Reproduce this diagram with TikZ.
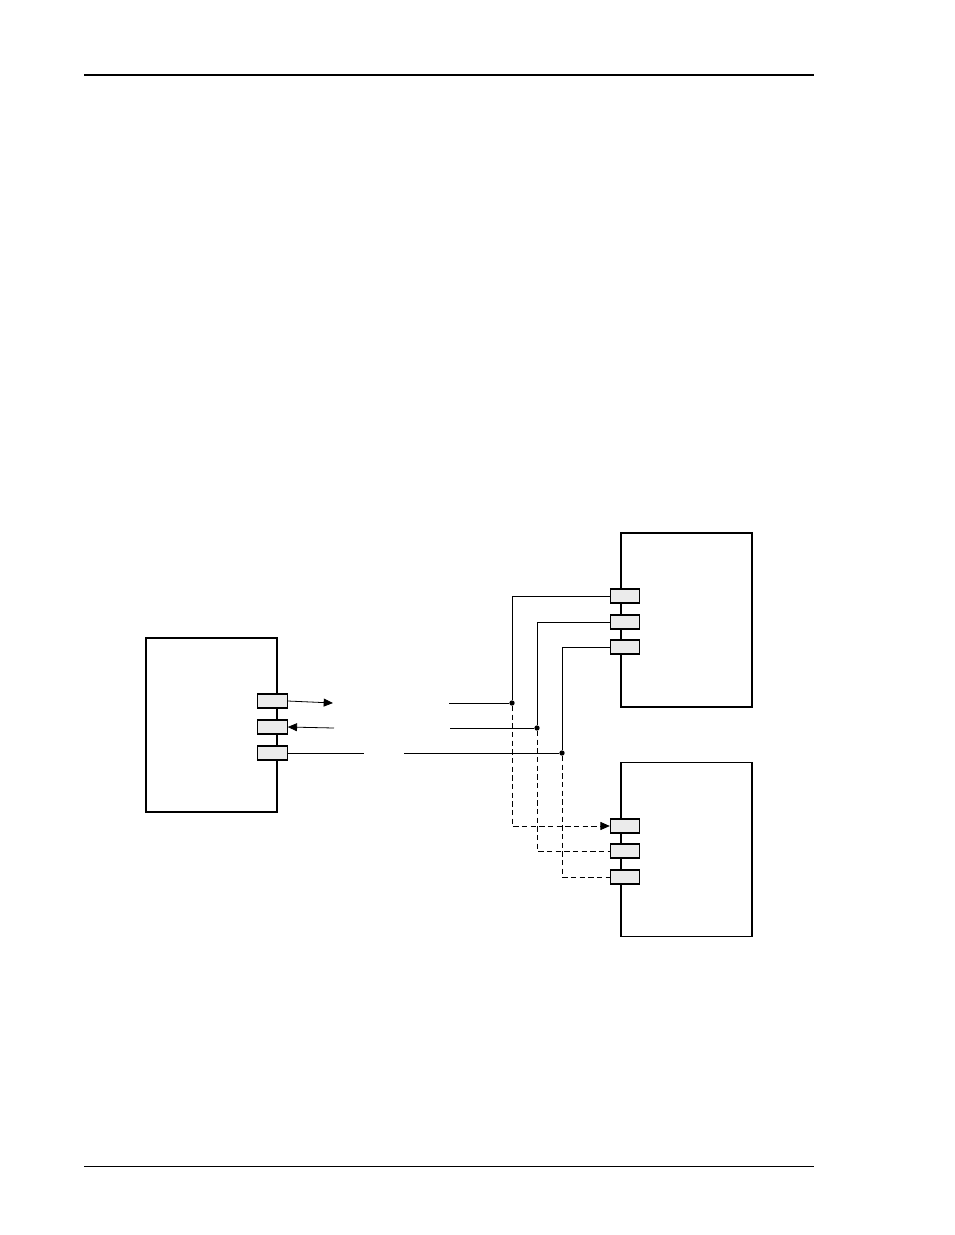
\documentclass[tikz,border=0pt]{standalone}
\usetikzlibrary{arrows.meta}
\tikzset{
  unit/.style={draw,line width=1.2pt,minimum width=98.25pt,minimum height=130.5pt,inner sep=0pt},
  port/.style={draw,fill=black!8,line width=0.8pt,minimum width=22pt,minimum height=10.5pt,inner sep=0pt},
  wire/.style={line width=0.6pt},
  dwire/.style={line width=0.6pt,dash pattern=on 4pt off 2.5pt},
  junc/.style={circle,fill=black,inner sep=0pt,minimum size=4pt},
  tip/.style={-{Triangle[length=7pt,width=6pt]}}
}
\begin{document}
\begin{tikzpicture}[x=0.75pt,y=0.75pt,yscale=-1,xscale=1]
\useasboundingbox (0,0) rectangle (954,1235);

% page rules
\draw [line width=1.5pt] (84,75) -- (814,75);
\draw [line width=0.6pt] (84,1166) -- (814,1166);

% units
\node [unit] (master) at (211.5,725) {};
\node [unit] (slaveA) at (686.5,620) {};
\node [unit] (slaveB) at (686.5,849.5) {};

% ports
\node [port] (mOut) at (272.5,701) {};
\node [port] (mIn)  at (272.5,727) {};
\node [port] (mCom) at (272.5,753) {};
\node [port] (aIn)  at (625,596) {};
\node [port] (aOut) at (625,622) {};
\node [port] (aCom) at (625,647) {};
\node [port] (bIn)  at (625,826) {};
\node [port] (bOut) at (625,851) {};
\node [port] (bCom) at (625,877) {};

% junctions
\node [junc] (j1) at (512,703) {};
\node [junc] (j2) at (537,728) {};
\node [junc] (j3) at (562,753) {};
\coordinate (t1) at (333,703);
\coordinate (t2) at (334,728);
\coordinate (s1) at (449,703);
\coordinate (s2) at (450,728);
\coordinate (g1) at (364,753);
\coordinate (g2) at (404,753);

% master side
\draw [wire,tip] (mOut.east) -- (t1);
\draw [wire,tip] (t2) -- (mIn.east);
\draw [wire] (mCom.east) -- (g1);

% bus
\draw [wire] (s1) -- (j1) |- (aIn.west);
\draw [wire] (s2) -- (j2) |- (aOut.west);
\draw [wire] (g2) -- (j3) |- (aCom.west);

% second slave
\draw [dwire,tip] (j1) |- (bIn.west);
\draw [dwire] (j2) |- (bOut.west);
\draw [dwire] (j3) |- (bCom.west);

\end{tikzpicture}
\end{document}
